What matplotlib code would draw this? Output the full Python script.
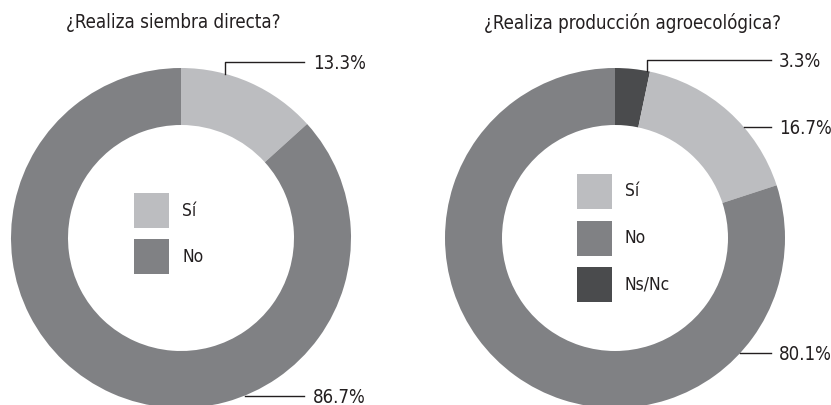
import numpy as np
import matplotlib.pyplot as plt
from matplotlib.patches import Rectangle

plt.rcParams['font.family'] = ['DejaVu Sans']
plt.rcParams['font.stretch'] = 'condensed'

# data
titles = ["¿Realiza siembra directa?", "¿Realiza producción agroecológica?"]
left_labels = ["Sí", "No"]
left_values = [13.3, 86.7]
right_labels = ["Ns/Nc", "Sí", "No"]
right_values = [3.3, 16.7, 80.1]
legend_left = ["Sí", "No"]
legend_right = ["Sí", "No", "Ns/Nc"]

colors = {"Sí": "#bcbdc0", "No": "#808184", "Ns/Nc": "#4a4b4d"}
INK = "#231f20"

# layout, in pixels from the top-left corner
W, H = 831, 405
R_OUT, R_IN = 170, 113
charts = [
    dict(cx=181, cy=238, title_x=173, values=left_values, labels=left_labels,
         legend=legend_left, leg_x=134, leg_y=193, gap=46,
         # angle (deg clockwise from top) where each leader touches the ring
         lead_ang=[15, 158], lead_up=[True, False], text_x=313, line_end=304),
    dict(cx=615, cy=238, title_x=633, values=right_values, labels=right_labels,
         legend=legend_right, leg_x=577, leg_y=174, gap=46.7,
         lead_ang=[10.8, 49.3, 132.7], lead_up=[True, False, False],
         text_x=779, line_end=771),
]


def Y(y):
    # pixel row -> data y (axis goes upward)
    return H - y


fig = plt.figure(figsize=(W / 100, H / 100), dpi=100)
ax = fig.add_axes([0, 0, 1, 1])

for i, c in enumerate(charts):
    cols = [colors[l] for l in c["labels"]]
    ax.pie(c["values"], colors=cols, startangle=90, counterclock=False,
           center=(c["cx"], Y(c["cy"])), radius=R_OUT,
           wedgeprops=dict(width=R_OUT - R_IN, linewidth=0))
    ax.text(c["title_x"], Y(23), titles[i], ha="center", va="center",
            fontsize=13.4, color=INK)

    for v, a, up in zip(c["values"], c["lead_ang"], c["lead_up"]):
        t = np.radians(a)
        px = c["cx"] + R_OUT * np.sin(t)
        py = c["cy"] - R_OUT * np.cos(t)
        if up:
            ly = py - 11.5
            ax.plot([px, px, c["line_end"]], [Y(py), Y(ly), Y(ly)], color=INK, lw=1)
        else:
            ly = py
            ax.plot([px, c["line_end"]], [Y(py), Y(ly)], color=INK, lw=1)
        ax.text(c["text_x"], Y(ly + 1.5), f"{v:.1f}%", ha="left", va="center",
                fontsize=13.4, color=INK)

    for k, lab in enumerate(c["legend"]):
        y0 = c["leg_y"] + k * c["gap"]
        ax.add_patch(Rectangle((c["leg_x"], Y(y0 + 35)), 35, 35,
                               color=colors[lab], lw=0))
        ax.text(c["leg_x"] + 48, Y(y0 + 17.5), lab, ha="left", va="center",
                fontsize=12.5, color=INK)

ax.set_xlim(0, W)
ax.set_ylim(0, H)
ax.set_aspect("auto")
ax.axis("off")

fig.savefig("out.png", dpi=100)
